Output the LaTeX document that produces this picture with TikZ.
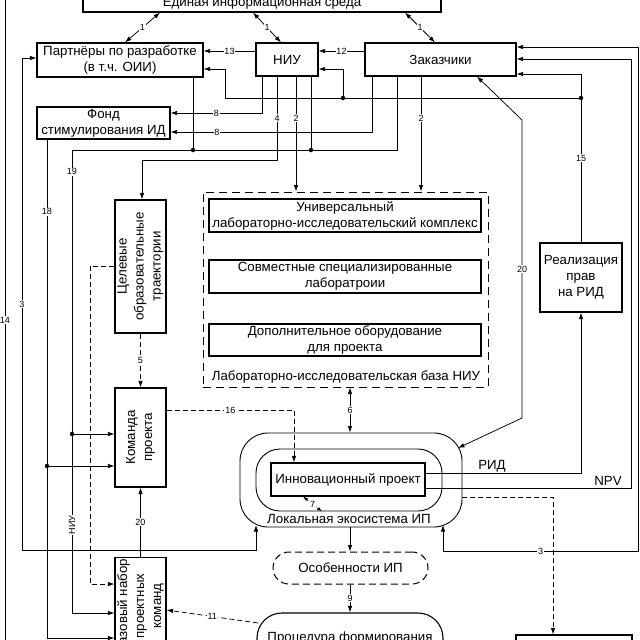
\documentclass[tikz,border=0pt]{standalone}
\usepackage{fontspec}
\setmainfont{Liberation Sans}
\usetikzlibrary{arrows.meta,calc}
\begin{document}
\begin{tikzpicture}[x=1pt,y=-1pt,
 box/.style={draw,line width=1.1pt,inner sep=1pt,align=center,font=\fontsize{13.3}{16}\selectfont},
 rbox/.style={box,rotate=90,font=\fontsize{13.3}{17}\selectfont},
 txt/.style={inner sep=0pt,font=\fontsize{13.3}{16}\selectfont},
 conn/.style={line width=0.75pt},
 arr/.style={conn,-{Latex[length=6.5pt,width=4.5pt]}},
 barr/.style={conn,{Latex[length=6.5pt,width=4.5pt]}-{Latex[length=6.5pt,width=4.5pt]}},
 dsh/.style={dash pattern=on 5pt off 3pt},
 lbl/.style={fill=white,inner sep=0.8pt,font=\fontsize{9}{10}\selectfont},
 jdot/.style={circle,fill,inner sep=0pt,minimum size=4.5pt}]

\useasboundingbox (0,0) rectangle (640,640);
\clip (0,0) rectangle (640,640);

% ---- nodes ----
\node[box,minimum width=358,minimum height=18] (top) at (262,3) {Единая информационная среда};
\node[box,minimum width=166,minimum height=34] (partners) at (120,60) {Партнёры по разработке\\(в т.ч. ОИИ)};
\node[box,minimum width=62,minimum height=33] (niu) at (287,59.5) {НИУ};
\node[box,minimum width=151,minimum height=33] (zak) at (440.5,59.5) {Заказчики};
\node[box,minimum width=133,minimum height=32] (fond) at (103.5,123) {Фонд\\стимулирования ИД};
\node[rbox,minimum width=133,minimum height=51] (traj) at (140.5,266.5) {Целевые\\образовательные\\траектории};
\node[rbox,minimum width=99,minimum height=51] (team) at (140.5,437.5) {Команда\\проекта};
\node[rbox,minimum width=94,minimum height=51] (base) at (140.5,606) {Базовый набор\\проектных\\команд};

\node[draw,line width=1pt,dash pattern=on 8pt off 5pt,minimum width=285,minimum height=195,inner sep=0pt] (lab) at (345.5,289.5) {};
\node[box,minimum width=272,minimum height=33] (u1) at (345,215.5) {Универсальный\\лабораторно-исследовательский комплекс};
\node[box,minimum width=272,minimum height=33] (u2) at (345,276.5) {Совместные специализированные\\лаборатроии};
\node[box,minimum width=272,minimum height=32] (u3) at (345,340) {Дополнительное оборудование\\для проекта};
\node[txt] (labtext) at (346,377) {Лабораторно-исследовательская база НИУ};

\node[box,minimum width=82,minimum height=69] (real) at (581,277.5) {Реализация\\прав\\на РИД};

\node[draw,line width=0.9pt,rounded corners=28pt,minimum width=222,minimum height=94,inner sep=0pt] (ecoo) at (351,480) {};
\node[draw,line width=0.9pt,rounded corners=24pt,minimum width=186,minimum height=62,inner sep=0pt] (ecoi) at (349,480) {};
\node[box,minimum width=154,minimum height=33] (proj) at (348,479.5) {Инновационный проект};
\node[txt] (ecotext) at (349,519) {Локальная экосистема ИП};

\node[box,line width=1pt,dash pattern=on 7pt off 4pt,rounded corners=16pt,minimum width=155,minimum height=32] (osob) at (350.5,568) {Особенности ИП};
\node[draw,line width=1.1pt,rounded corners=25pt,minimum width=186,minimum height=87,inner sep=0pt] (proc) at (350,656.5) {};
\node[txt,anchor=base] (proctext) at (350,641) {Процедура формирования};
\node[box,minimum width=116,minimum height=45] (br) at (574,657.5) {};

% ---- junctions ----
\coordinate (j15) at (581,98);
\coordinate (jniu) at (343,98);
\coordinate (j19a) at (311,150);
\coordinate (j19b) at (193,150);
\coordinate (j19c) at (72,434);
\coordinate (j18) at (47,466);
\coordinate (l14a) at (5,-10);
\coordinate (l14b) at (5,650);

% ---- connectors ----
\draw[barr] (160,0 |- top.south) -- node[lbl]{1} (125,0 |- partners.north);
\draw[barr] (253,0 |- top.south) -- node[lbl]{1} (281,0 |- niu.north);
\draw[barr] (405,0 |- top.south) -- node[lbl]{1} (435,0 |- zak.north);

\draw[arr] (niu.west |- 0,51) -- node[lbl]{13} (partners.east |- 0,51);
\draw[arr] (zak.west |- 0,51) -- node[lbl]{12} (niu.east |- 0,51);

\draw[arr] (real.north) -- node[lbl,pos=0.5]{15} (real.north |- 0,74) -- (zak.east |- 0,74);
\draw[arr] (j15) -- (225,98) -- (225,69) -- (partners.east |- 0,69);
\draw[arr] (jniu) -- (343,69) -- (niu.east |- 0,69);

\draw[arr] (262,0 |- niu.south) -- (262,113) -- node[lbl]{8} (fond.east |- 0,113);
\draw[arr] (372,0 |- zak.south) -- (372,132) -- node[lbl,pos=0.77]{8} (fond.east |- 0,132);

\draw[arr] (277,0 |- niu.south) -- node[lbl]{4} (277,160) -- (142,160) -- (142,0 |- traj.east);
\draw[arr] (296,0 |- niu.south) -- node[lbl,pos=0.36]{2} (296,0 |- lab.north);
\draw[arr] (421,0 |- zak.south) -- node[lbl,pos=0.36]{2} (421,0 |- lab.north);

\draw[conn] (311,0 |- niu.south) -- (j19a);
\draw[conn] (193,0 |- partners.south) -- (j19b);
\draw[arr] (397,0 |- zak.south) -- (397,150) -- (72,150) -- node[lbl,pos=0.047]{19} node[lbl,pos=0.81,rotate=90]{НИУ} (72,613) -- (base.north |- 0,613);
\draw[arr] (j19c) -- (team.north |- j19c);

\draw[arr] (47,0 |- fond.south) -- node[lbl,pos=0.145]{18} (47,638) -- (base.north |- 0,638);
\draw[arr] (j18) -- (team.north |- j18);

\draw[arr,dsh] (traj.north) -- (90,0 |- traj.north) -- (90,584) -- (base.north |- 0,584);

\draw[barr] (partners.west |- 0,58) -- (22,58) -- node[lbl,pos=0.5]{3} (22,550) -- (256,550) -- (256,525);
\draw[conn] (l14a) -- node[lbl,pos=0.5]{14} (l14b);
\draw[barr] (zak.east |- 0,47) -- (638,47) -- (638,551) -- node[lbl,pos=0.5]{3} (443,551) -- (443,525);

\draw[arr] (proj.east |- 0,488) -- (631,488) -- (631,59) -- (zak.east |- 0,59);
\node[txt] (npv) at (608,481) {NPV};
\draw[arr] (proj.east |- 0,473) -- (real.south |- 0,473) -- (real.south);
\node[txt] (rid) at (492,466) {РИД};

\draw[barr] (477,0 |- zak.south) -- (522,120) -- node[lbl]{20} (522,418) -- (458,448);

\draw[barr] (350,0 |- lab.south) -- node[lbl]{6} (350,0 |- ecoo.north);
\draw[arr,dsh] (traj.west) -- node[lbl]{5} (team.east);
\draw[arr,dsh] (team.south |- 0,410) -- node[lbl]{16} (294,410) -- (294,0 |- proj.north);
\draw[arr] (base.east) -- node[lbl]{20} (team.west);
\draw[conn,dash pattern=on 2pt off 1.5pt,{Latex[length=5pt,width=3.5pt]}-{Latex[length=5pt,width=3.5pt]}] (303,0 |- proj.south) -- node[lbl]{7} (322,0 |- ecoi.south);

\draw[arr] (350,0 |- ecoo.south) -- (350,0 |- osob.north);
\draw[arr] (350,0 |- osob.south) -- node[lbl]{9} (350,0 |- proc.north);
\draw[arr,dsh] (258,623) -- node[lbl]{11} (base.south |- 0,610);
\draw[arr,dsh] (ecoo.east |- 0,497) -- (553,497) -- (553,0 |- br.north);

% dots
\foreach \p in {j15,jniu,j19a,j19b,j19c,j18} \node[jdot] at (\p) {};
\end{tikzpicture}
\end{document}
